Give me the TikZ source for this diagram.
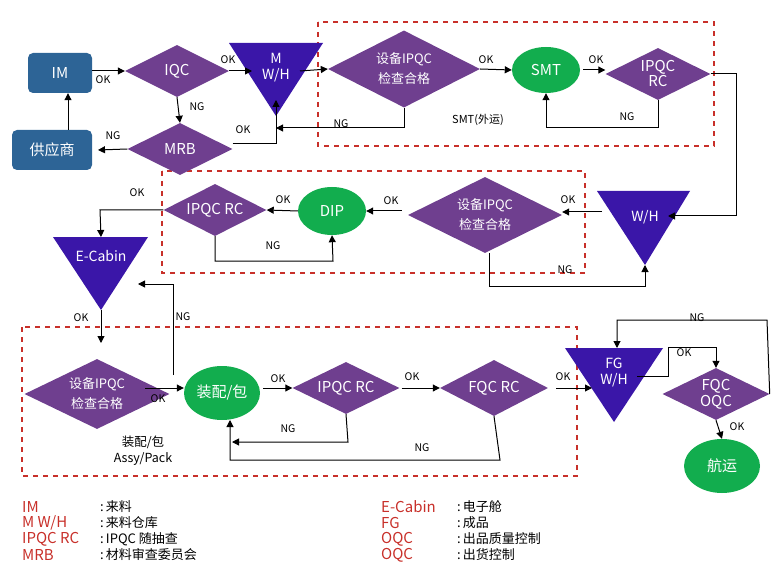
\documentclass[tikz,border=0pt]{standalone}
\usepackage{fontspec}
\setmainfont{Noto Sans CJK SC}
\usetikzlibrary{shapes.geometric,arrows.meta}
\definecolor{dpurple}{HTML}{6F3F8F}
\definecolor{tri}{HTML}{3A16A8}
\definecolor{grn}{HTML}{12AD4E}
\definecolor{blu}{HTML}{2D6496}
\definecolor{dred}{HTML}{C8302A}
\begin{document}
\begin{tikzpicture}[x=1pt,y=-1pt,
 dia/.style={diamond,aspect=2,fill=dpurple,text=white,inner sep=0pt,font=\fontsize{15}{16}\selectfont,align=center},
 ell/.style={ellipse,fill=grn,text=white,inner sep=0pt,font=\fontsize{15}{16}\selectfont},
 box/.style={rectangle,rounded corners=5pt,fill=blu,text=white,inner sep=0pt,font=\fontsize{15}{16}\selectfont},
 trit/.style={text=white,font=\fontsize{14}{16}\selectfont,align=center},
 lab/.style={font=\fontsize{10.5}{12}\selectfont,inner sep=1pt},
 ar/.style={draw,line width=1pt,-{Triangle[length=7pt,width=7pt]}},
 dbox/.style={draw=dred,line width=2pt,dash pattern=on 5pt off 5pt},
 leg/.style={anchor=west,font=\fontsize{13}{14}\selectfont,inner sep=0pt},
 legr/.style={anchor=west,font=\fontsize{15}{15}\selectfont,inner sep=0pt,text=dred}]
\useasboundingbox (0,0) rectangle (777,567);
\draw[dbox] (318,22) rectangle (714,146);
\draw[dbox] (162,171) rectangle (585,273);
\draw[dbox] (22,327) rectangle (577,476);
% triangles
\fill[tri] (229,43)--(323,43)--(276,116)--cycle;
\fill[tri] (597,191)--(690,191)--(645,265)--cycle;
\fill[tri] (53,237)--(148,237)--(101,310)--cycle;
\fill[tri] (565,348)--(663,348)--(614,422)--cycle;
\node[trit] (mwh) at (276,68) {M\\W/H};
\coordinate (mwhtip) at (276,100);
\coordinate (mwhl) at (252,71);
\coordinate (mwhr) at (300,71);
\node[trit] (wh) at (645,217) {W/H};
\coordinate (whtip) at (645,265);
\coordinate (whr) at (668,216);
\coordinate (whl) at (602,212);
\node[trit] (ecab) at (101,256) {E-Cabin};
\coordinate (ectop) at (101,237);
\coordinate (ectip) at (101,310);
\coordinate (ecr) at (138,284);
\node[trit] (fgwh) at (614,373) {FG\\W/H};
\coordinate (fgl) at (592,388);
\coordinate (fgr) at (637,376);
\coordinate (fgtop) at (617,348);
% nodes
\node[box,minimum width=64pt,minimum height=40pt] (im) at (60,73) {IM};
\node[box,minimum width=80pt,minimum height=40pt] (sup) at (52,150) {供应商};
\node[dia,minimum width=104pt,minimum height=52pt] (iqc) at (177,71) {IQC};
\node[dia,minimum width=105pt,minimum height=52pt] (mrb) at (180,149) {MRB};
\node[dia,minimum width=152pt,minimum height=77pt,font=\fontsize{13}{20}\selectfont] (eq1) at (404,69) {设备IPQC\\检查合格};
\node[ell,minimum width=68pt,minimum height=46pt] (smt) at (546,70) {SMT};
\node[dia,minimum width=105pt,minimum height=52pt,font=\fontsize{15}{15}\selectfont] (rc1) at (658,74) {IPQC\\RC};
\node[dia,minimum width=154pt,minimum height=76pt,font=\fontsize{13}{20}\selectfont] (eq2) at (485,215) {设备IPQC\\检查合格};
\node[ell,minimum width=68pt,minimum height=48pt] (dip) at (332,211) {DIP};
\node[dia,minimum width=103pt,minimum height=52pt] (rc2) at (215,210) {IPQC RC};
\node[dia,minimum width=145pt,minimum height=70pt,font=\fontsize{13}{20}\selectfont] (eq3) at (97,394) {设备IPQC\\检查合格};
\node[ell,minimum width=76pt,minimum height=54pt] (asm) at (222,393) {装配/包};
\node[dia,minimum width=107pt,minimum height=52pt] (rc3) at (346,388) {IPQC RC};
\node[dia,minimum width=108pt,minimum height=56pt] (fqc) at (494,388) {FQC RC};
\node[dia,minimum width=107pt,minimum height=52pt,font=\fontsize{15}{16}\selectfont] (oqc) at (716,394) {FQC\\OQC};
\node[ell,minimum width=76pt,minimum height=54pt] (ship) at (722,466) {航运};
% texts
\node[lab,font=\fontsize{11}{12}\selectfont] (smtw) at (478,120) {SMT(外运)};
\node[align=center,font=\fontsize{12.5}{16}\selectfont] (asl) at (143,451) {装配/包\\Assy/Pack};
% connectors
\draw[ar] (im.east|-iqc) -- (iqc.west);
\node[lab] at (103,80) {OK};
\draw[ar] (iqc.east) -- (mwhl);
\node[lab] at (228,60) {OK};
\draw[ar] (mwhr) -- (eq1.west);
\draw[ar] (eq1.south) -- (404,128) -- (276,128);
\node[lab] at (341,124) {NG};
\draw[ar] (mrb.east|-0,144) -- (276,144) -- (mwhtip);
\node[lab] at (243,130) {OK};
\draw[ar] (iqc.south) -- (mrb.north);
\node[lab] at (197,107) {NG};
\draw[ar] (mrb.west) -- (sup.east-|98,0);
\node[lab] at (113,136) {NG};
\draw[ar] (sup.north-|68,0) -- (im.south-|68,0);
\draw[ar] (eq1.east) -- (smt.west);
\node[lab] at (486,60) {OK};
\draw[ar] (smt.east) ++(3,0) -- (rc1.west|-smt);
\node[lab] at (596,60) {OK};
\draw[ar] (rc1.south) -- (658,128) -- (546,128) -- (smt.south);
\node[lab] at (627,117) {NG};
\draw[ar] (rc1.east) -- (736,74) -- (736,216) -- (whr);
\draw[ar] (whl) -- (eq2.east|-whl);
\node[lab] at (568,200) {OK};
\draw[ar] (489,253) -- (489,286) -- (645,286) -- (whtip);
\node[lab] at (565,270) {NG};
\draw[ar] (eq2.west|-dip) ++(-6,0) -- (dip.east);
\node[lab] at (391,201) {OK};
\draw[ar] (dip.west) -- (rc2.east);
\node[lab] at (283,200) {OK};
\draw[ar] (rc2.south) -- (215,261) -- (333,261) -- (dip.south);
\node[lab] at (273,246) {NG};
\draw[ar] (rc2.west) -- (100,210) -- (ectop);
\node[lab] at (137,193) {OK};
\draw[ar] (ectip) -- (101,343);
\node[lab] at (81,318) {OK};
\draw[ar] (145,388) -- (asm.west|-0,388);
\node[lab] at (158,399) {OK};
\draw[ar] (173,375) -- (173,284) -- (ecr);
\node[lab] at (183,317) {NG};
\draw[ar] (asm.east|-0,388) ++(3,0) -- (rc3.west);
\node[lab] at (278,379) {OK};
\draw[ar] (rc3.east) ++(2,0) -- (fqc.west);
\node[lab] at (412,377) {OK};
\draw[ar] (rc3.south) -- (348,442) -- (232,442);
\node[lab] at (288,429) {NG};
\draw[ar] (fqc.south) -- (500,460) -- (230,460) -- (230,420);
\node[lab] at (422,448) {NG};
\draw[ar] (fqc.east) ++(8,0) -- (fgl);
\node[lab] at (563,377) {OK};
\draw[ar] (oqc.east) -- (767,320) -- (617,320) -- (fgtop);
\node[lab] at (697,318) {NG};
\draw[ar] (fgr) -- (668,376) -- (668,347) -- (716,347) -- (oqc.north);
\node[lab] at (684,353) {OK};
\draw[ar] (oqc.south) -- (ship.north);
\node[lab] at (737,427) {OK};
% legend
\foreach \y/\a/\b in {507/IM/来料,523/{M W/H}/来料仓库,539/IPQC RC/IPQC 随抽查,555/MRB/材料审查委员会}{
 \node[legr] at (22,\y) {\a};
 \node[leg] at (100,\y) {:\,\b};}
\foreach \y/\a/\b in {507/E-Cabin/电子舱,523/FG/成品,539/OQC/出品质量控制,555/OQC/出货控制}{
 \node[legr] at (381,\y) {\a};
 \node[leg] at (457,\y) {:\,\b};}
\end{tikzpicture}
\end{document}
